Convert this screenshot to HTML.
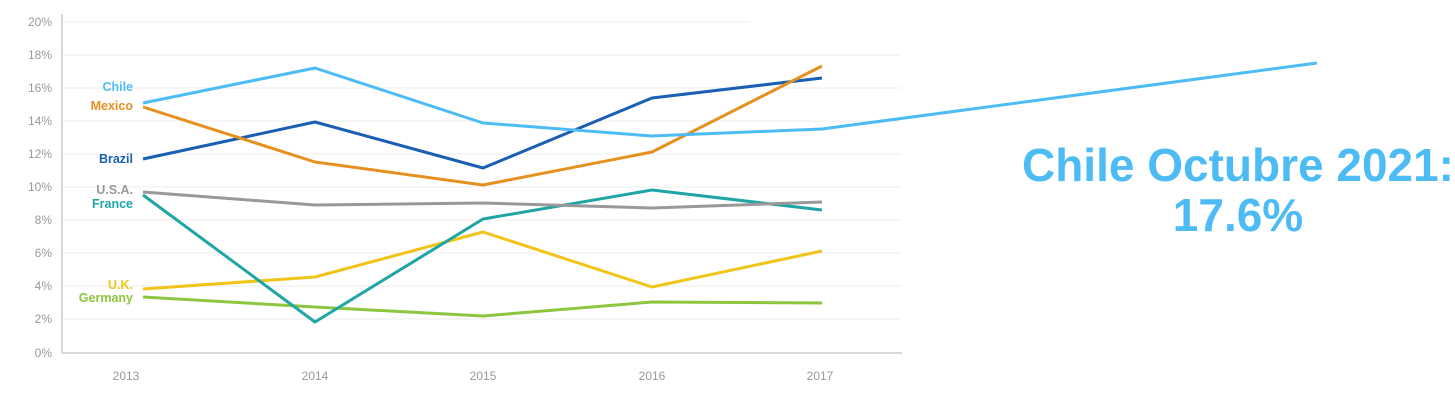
<!DOCTYPE html>
<html><head><style>
html,body{margin:0;padding:0;background:#fff;}
body{width:1455px;height:402px;overflow:hidden;font-family:"Liberation Sans",sans-serif;}
</style></head><body>
<svg width="1455" height="402" xmlns="http://www.w3.org/2000/svg" font-family="Liberation Sans, sans-serif">
<g stroke="#ececec" stroke-width="1">
<line x1="62" y1="22" x2="750" y2="22"/>
<line x1="62" y1="55" x2="900" y2="55"/>
<line x1="62" y1="88" x2="900" y2="88"/>
<line x1="62" y1="121" x2="900" y2="121"/>
<line x1="62" y1="154" x2="900" y2="154"/>
<line x1="62" y1="187" x2="900" y2="187"/>
<line x1="62" y1="220" x2="900" y2="220"/>
<line x1="62" y1="253" x2="900" y2="253"/>
<line x1="62" y1="286" x2="900" y2="286"/>
<line x1="62" y1="319" x2="900" y2="319"/>
</g>
<line x1="62" y1="14" x2="62" y2="353" stroke="#ccc" stroke-width="1.5"/>
<line x1="62" y1="353" x2="902" y2="353" stroke="#ccc" stroke-width="1.5"/>
<g fill="#999" font-size="12" text-anchor="end">
<text x="52" y="26">20%</text><text x="52" y="59">18%</text><text x="52" y="92">16%</text>
<text x="52" y="125">14%</text><text x="52" y="158">12%</text><text x="52" y="191">10%</text>
<text x="52" y="224">8%</text><text x="52" y="257">6%</text><text x="52" y="290">4%</text>
<text x="52" y="323">2%</text><text x="52" y="357">0%</text>
</g>
<g fill="#999" font-size="12" text-anchor="middle">
<text x="126" y="380">2013</text><text x="315" y="380">2014</text><text x="483" y="380">2015</text>
<text x="652" y="380">2016</text><text x="820" y="380">2017</text>
</g>
<g fill="none" stroke-width="3" stroke-linejoin="round">
<polyline stroke="#8cc63f" points="143,297 315,307 483,316 652,302 822,303"/>
<polyline stroke="#f0c419" points="143,289 315,277 483,232 652,287 822,251"/>
<polyline stroke="#1fa5a5" points="143,195 315,322 483,219 652,190 822,210"/>
<polyline stroke="#999" points="143,192 315,205 483,203 652,208 822,202"/>
<polyline stroke="#1a5fb4" points="143,159 315,122 483,168 652,98 822,78"/>
<polyline stroke="#e6901f" points="143,107 315,162 483,185 652,152 822,66"/>
<polyline stroke="#4dbcf5" points="143,103 315,68 483,123 652,136 822,129 1317,63"/>
</g>
<g font-size="12.5" font-weight="bold" text-anchor="end">
<text x="133" y="91" fill="#4dbcf5">Chile</text>
<text x="133" y="110" fill="#e6901f">Mexico</text>
<text x="133" y="163" fill="#1a5fb4">Brazil</text>
<text x="133" y="194" fill="#999">U.S.A.</text>
<text x="133" y="208" fill="#1fa5a5">France</text>
<text x="133" y="289" fill="#f0c419">U.K.</text>
<text x="133" y="302" fill="#8cc63f">Germany</text>
</g>
<g font-size="46" font-weight="bold" fill="#4dbcf5" text-anchor="middle">
<text x="1238" y="181">Chile Octubre 2021:</text>
<text x="1238" y="231">17.6%</text>
</g>
</svg>
</body></html>
